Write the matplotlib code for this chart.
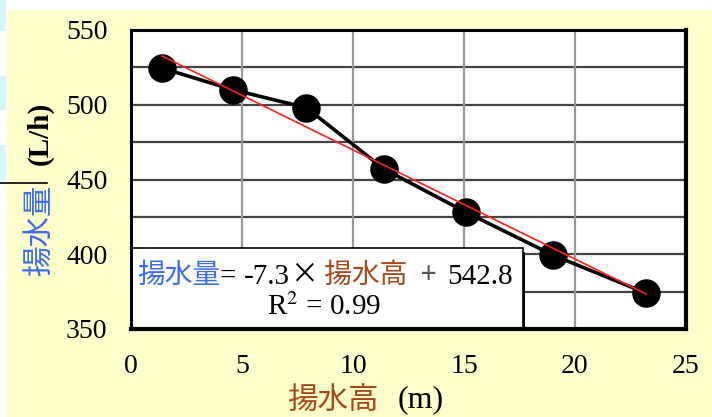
import matplotlib
matplotlib.use("Agg")
import matplotlib.pyplot as plt
from matplotlib.patches import Rectangle
from matplotlib.lines import Line2D

# Pumping head (m) vs. pumping rate (L/h)
head_m = [1.4, 4.6, 7.9, 11.4, 15.1, 19.0, 23.2]
flow_lph = [524.5, 510.0, 498.0, 457.0, 428.0, 399.5, 374.0]

# Linear fit shown in the annotation box
slope = -7.3
intercept = 542.8
r_squared = 0.99

x_ticks = [0, 5, 10, 15, 20, 25]
y_ticks = [350, 400, 450, 500, 550]

BLUE = "#3a6cf4"
BROWN = "#a8471a"
YELLOW = "#ffffcc"
SERIF = ["Liberation Serif", "Noto Sans CJK JP"]
CJK = ["Noto Sans CJK JP", "Liberation Serif"]

W, H = 712, 417
fig = plt.figure(figsize=(W / 100, H / 100), dpi=100, facecolor="white")


def px(x0, y0, w, h):
    """pixel box (from top-left) -> figure fraction rectangle args"""
    return (x0 / W, 1 - (y0 + h) / H), w / W, h / H


# pale chart area and the strip on the left edge
xy, w, h = px(7, 10, W - 7, H - 10)
fig.patches.append(Rectangle(xy, w, h, transform=fig.transFigure,
                             facecolor=YELLOW, edgecolor="none", zorder=-2))
for y0, y1 in [(0, 31), (76, 110), (145, 181)]:
    xy, w, h = px(0, y0, 6, y1 - y0)
    fig.patches.append(Rectangle(xy, w, h, transform=fig.transFigure,
                                 facecolor="#d4f6fb", edgecolor="none", zorder=-2))
fig.lines.append(Line2D([0, 47 / W], [1 - 183 / H, 1 - 183 / H],
                        transform=fig.transFigure, color="black", lw=1.2, zorder=-1))

ax = fig.add_axes([131 / W, 1 - 329 / H, (686 - 131) / W, (329 - 30) / H])
ax.set_facecolor("white")
ax.set_xlim(0, 25)
ax.set_ylim(350, 550)
ax.set_xticks(x_ticks)
ax.set_yticks(y_ticks)
ax.set_xticklabels([str(v) for v in x_ticks], family=SERIF, fontsize=20)
ax.set_yticklabels([str(v) for v in y_ticks], family=SERIF, fontsize=20)
ax.tick_params(axis="y", length=0, pad=17)
ax.tick_params(axis="x", length=0, pad=18)

# grid: dark horizontal lines every 25, grey vertical lines every 5
for yv in range(375, 550, 25):
    ax.axhline(yv, color="#444444", lw=1.6, zorder=1)
for xv in range(5, 25, 5):
    ax.axvline(xv, color="#999999", lw=1.6, zorder=1)
for name, s in ax.spines.items():
    s.set_linewidth(3.0 if name in ("right", "bottom") else 2.2)
    s.set_color("black")
    s.set_zorder(6)

ax.plot(head_m, flow_lph, color="black", lw=2.6, marker="o", ms=19.5,
        markerfacecolor="black", markeredgecolor="black", zorder=3)
fx = [min(head_m), max(head_m)]
ax.plot(fx, [slope * v + intercept for v in fx], color="#ff2020", lw=1.2, zorder=4)

# annotation box with the regression equation
bx1, by1 = (523 - 131) / (686 - 131), (329 - 248) / (329 - 30)
ax.add_patch(Rectangle((0.004, -0.012), bx1, by1, transform=ax.transAxes,
                       facecolor="black", edgecolor="none", zorder=4.5))
ax.add_patch(Rectangle((0, 0), bx1, by1, transform=ax.transAxes,
                       facecolor="white", edgecolor="black", lw=1.2, zorder=5))

line_y = (329 - 271) / (329 - 30)
parts = [("揚水量", BLUE, CJK, 20), ("= ", "black", SERIF, 21),
         (f"{slope:.1f}", "black", SERIF, 21), ("×", "black", CJK, 20),
         (" 揚水高", BROWN, CJK, 20), ("  ", "black", SERIF, 20),
         ("+", "#555555", CJK, 20), ("  ", "black", SERIF, 15),
         (f"{intercept:.1f}", "black", SERIF, 21)]
prev = ax.text(6 / (686 - 131), line_y, parts[0][0], color=parts[0][1],
               family=parts[0][2], fontsize=parts[0][3], transform=ax.transAxes,
               va="center_baseline", ha="left", zorder=7)
for txt, col, fam, fs in parts[1:]:
    prev = ax.annotate(txt, xy=(1, 0), xycoords=prev, va="bottom", ha="left",
                       color=col, family=fam, fontsize=fs, zorder=7)

ax.text((324 - 131) / (686 - 131), (329 - 307) / (329 - 30),
        f"R$^2$ = {r_squared:.2f}", family=SERIF, fontsize=21,
        color="black", ha="center", va="center", transform=ax.transAxes, zorder=7,
        math_fontfamily="stix")

# axis titles
fig.text(287 / W, 1 - 400 / H, "揚水高", color=BROWN, family=CJK,
         fontsize=22, ha="left", va="center")
fig.text(398 / W, 1 - 400 / H, "(m)", color="black", family=SERIF,
         fontsize=23, ha="left", va="center")
fig.text(40 / W, 1 - 230 / H, "揚水量", color=BLUE, family=CJK,
         fontsize=22, rotation=90, ha="center", va="center")
fig.text(40 / W, 1 - 133 / H, "(L/h)", color="black", family=SERIF,
         fontsize=21, fontweight="bold", rotation=90, ha="center", va="center")

fig.savefig("out.png", dpi=100, facecolor=fig.get_facecolor())
